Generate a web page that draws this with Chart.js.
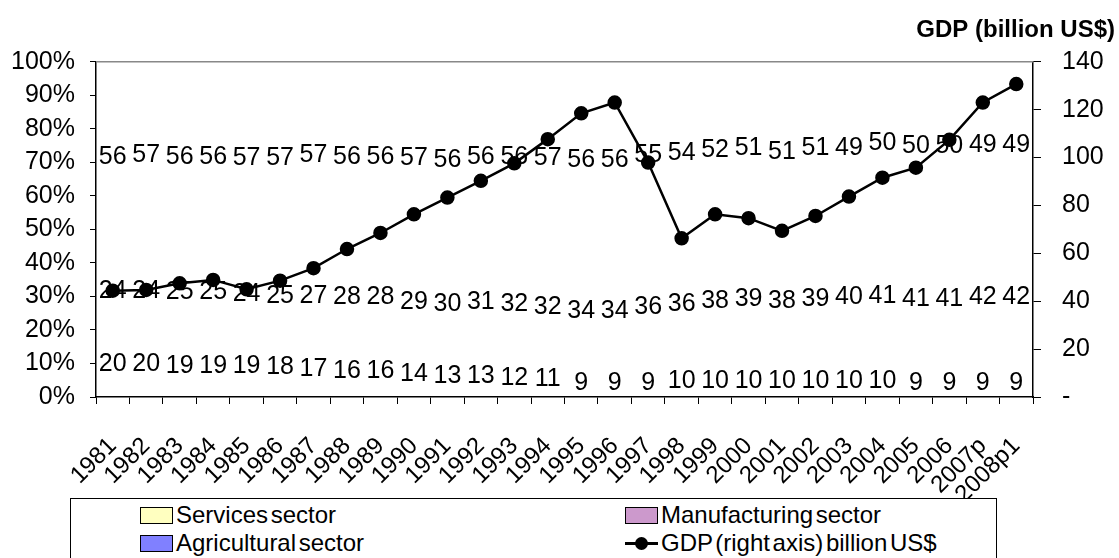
<!DOCTYPE html>
<html>
<head>
<meta charset="utf-8">
<script src="https://cdn.jsdelivr.net/npm/chart.js@4"></script>
<style>
  body { margin: 0; background: #fff; }
  #wrap { position: relative; width: 1119px; height: 558px; overflow: hidden; }
  #chart { position: absolute; left: 0; top: 0; }
  #legend {
    position: absolute; left: 70px; top: 498px; width: 925px; height: 90px;
    border: 1.5px solid #000; background: #fff;
    font-family: "Liberation Sans", Arial, sans-serif; font-size: 24px; color: #000;
    word-spacing: -4px;
  }
  .item { position: absolute; display: flex; align-items: center; height: 24px; white-space: nowrap; }
  .swatch { width: 31px; height: 15px; border: 1px solid #000; margin-right: 3px; }
  .lineKey { position: relative; width: 33px; height: 15px; margin-right: 3px; }
  .lineKey:before { content: ''; position: absolute; left: 0; right: 0; top: 6px; height: 3px; background: #000; }
  .lineKey:after { content: ''; position: absolute; left: 10px; top: 1px; width: 13px; height: 13px; border-radius: 50%; background: #000; }
</style>
</head>
<body>
<div id="wrap">
  <canvas id="chart" width="1119" height="558"></canvas>
  <div id="legend"></div>
</div>
<script>
const years = ['1981', '1982', '1983', '1984', '1985', '1986', '1987', '1988', '1989', '1990', '1991', '1992', '1993', '1994',
  '1995', '1996', '1997', '1998', '1999', '2000', '2001', '2002', '2003', '2004', '2005', '2006', '2007p', '2008p1'];
const agricultural = [20, 20, 19, 19, 19, 18, 17, 16, 16, 14, 13, 13, 12, 11, 9, 9, 9, 10, 10, 10, 10, 10, 10, 10, 9, 9, 9, 9];
const manufacturing = [24, 24, 25, 25, 24, 25, 27, 28, 28, 29, 30, 31, 32, 32, 34, 34, 36, 36, 38, 39, 38, 39, 40, 41, 41, 41, 42, 42];
const services = [56, 57, 56, 56, 57, 57, 57, 56, 56, 57, 56, 56, 56, 57, 56, 56, 55, 54, 52, 51, 51, 51, 49, 50, 50, 50, 49, 49];
const gdp = [44.4, 44.7, 47.5, 48.9, 45.0, 48.6, 53.8, 61.8, 68.5, 76.3, 83.3, 90.3, 97.6, 107.7, 118.5, 123.0, 97.9, 66.3, 76.3,
  74.7, 69.4, 75.6, 83.7, 91.6, 95.8, 107.4, 123.0, 130.7];
const pctTicks = [0, 10, 20, 30, 40, 50, 60, 70, 80, 90, 100];
const gdpTicks = [0, 20, 40, 60, 80, 100, 120, 140];

const font = '"Liberation Sans", Arial, sans-serif';

// legend is html, two columns like the original
const legendItems = [
  { label: 'Services sector', color: '#FFFFC0', left: 69, top: 4 },
  { label: 'Manufacturing sector', color: '#CC99CC', left: 554, top: 4 },
  { label: 'Agricultural sector', color: '#8080FF', left: 69, top: 32 },
  { label: 'GDP (right axis) billion US$', line: true, left: 554, top: 32 },
];
const legendEl = document.getElementById('legend');
legendItems.forEach((it) => {
  const div = document.createElement('div');
  div.className = 'item';
  div.style.left = it.left + 'px';
  div.style.top = it.top + 'px';
  const key = document.createElement('span');
  if (it.line) {
    key.className = 'lineKey';
  } else {
    key.className = 'swatch';
    key.style.background = it.color;
  }
  div.appendChild(key);
  div.appendChild(document.createTextNode(it.label));
  legendEl.appendChild(div);
});

// numbers in the middle of every stacked segment
const segmentLabels = {
  id: 'segmentLabels',
  afterDatasetDraw(chart, args) {
    const ds = chart.data.datasets[args.index];
    if (ds.type === 'line') return;
    const ctx = chart.ctx;
    ctx.save();
    ctx.font = '25px ' + font;
    ctx.fillStyle = '#000';
    ctx.textAlign = 'center';
    ctx.textBaseline = 'middle';
    args.meta.data.forEach((bar, i) => {
      ctx.fillText(String(ds.data[i]), bar.x, (bar.y + bar.base) / 2 + 1);
    });
    ctx.restore();
  },
  beforeDatasetsDraw(chart) {
    const { ctx, chartArea } = chart;
    ctx.save();
    ctx.strokeStyle = '#888';
    ctx.lineWidth = 1.5;
    ctx.beginPath();
    ctx.moveTo(chartArea.left, chartArea.top);
    ctx.lineTo(chartArea.right, chartArea.top);
    ctx.stroke();
    ctx.restore();
  },
};

new Chart(document.getElementById('chart'), {
  data: {
    labels: years,
    datasets: [
      { type: 'bar', label: 'Agricultural sector', data: agricultural, backgroundColor: 'rgba(0,0,0,0)', order: 1, stack: 's' },
      { type: 'bar', label: 'Manufacturing sector', data: manufacturing, backgroundColor: 'rgba(0,0,0,0)', order: 1, stack: 's' },
      { type: 'bar', label: 'Services sector', data: services, backgroundColor: 'rgba(0,0,0,0)', order: 1, stack: 's' },
      {
        type: 'line', label: 'GDP (right axis) billion US$', data: gdp, yAxisID: 'y1', order: 0,
        borderColor: '#000', backgroundColor: '#000', borderWidth: 2.5, pointRadius: 6, tension: 0,
      },
    ],
  },
  options: {
    responsive: false,
    animation: false,
    events: [],
    layout: { padding: { left: 0, right: 4, top: 0, bottom: 0 } },
    plugins: {
      legend: { display: false },
      tooltip: { enabled: false },
      title: {
        display: true,
        text: 'GDP (billion US$)',
        align: 'end',
        color: '#000',
        font: { family: font, size: 24, weight: 'bold' },
        padding: { top: 16, bottom: 17 },
      },
    },
    scales: {
      x: {
        stacked: true,
        offset: true,
        grid: { display: true, drawOnChartArea: false, offset: true, color: '#000', tickLength: 7 },
        border: { color: '#000', width: 1.5 },
        ticks: { color: '#000', font: { family: font, size: 24 }, minRotation: 45, maxRotation: 45, autoSkip: false, padding: 28 },
        afterFit: (s) => { s.height = 161; },
      },
      y: {
        stacked: true,
        min: 0,
        max: 100,
        afterBuildTicks: (s) => { s.ticks = pctTicks.map((v) => ({ value: v })); },
        grid: { display: true, drawOnChartArea: false, color: '#000', tickLength: 6 },
        border: { color: '#000', width: 1.5 },
        ticks: { color: '#000', font: { family: font, size: 25 }, padding: 15, callback: (v) => v + '%' },
        afterFit: (s) => { s.width = 96; },
      },
      y1: {
        position: 'right',
        min: 0,
        max: 140,
        afterBuildTicks: (s) => { s.ticks = gdpTicks.map((v) => ({ value: v })); },
        grid: { display: true, drawOnChartArea: false, color: '#000', tickLength: 8 },
        border: { color: '#000', width: 1.5 },
        ticks: { color: '#000', font: { family: font, size: 25 }, padding: 21, callback: (v) => (v === 0 ? '-' : v) },
        afterFit: (s) => { s.width = 82; },
      },
    },
  },
  plugins: [segmentLabels],
});
</script>
</body>
</html>
